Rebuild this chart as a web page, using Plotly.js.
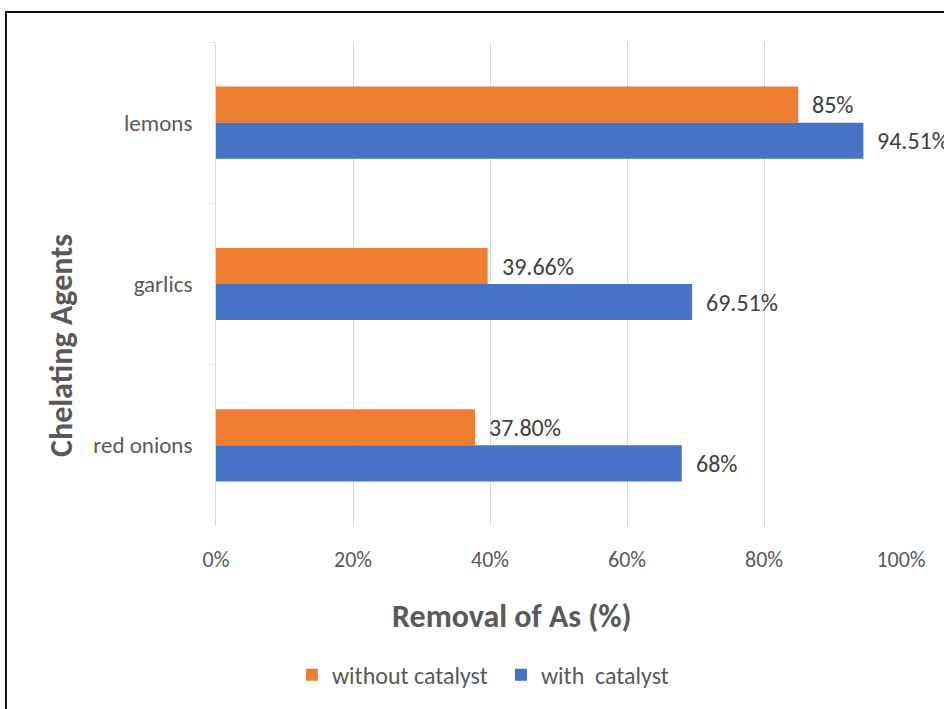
<!DOCTYPE html>
<html>
<head>
<meta charset="utf-8">
<script src="https://cdn.plot.ly/plotly-3.0.1.min.js"></script>
<style>
  html, body { margin: 0; padding: 0; background: #ffffff; overflow: hidden; }
  #chart { position: absolute; left: 0; top: 0; width: 944px; height: 709px; }
  #frame {
    position: absolute; left: 5px; top: 11px; width: 1000px; height: 800px;
    border-left: 2px solid #111; border-top: 2px solid #111;
    pointer-events: none;
  }
</style>
</head>
<body>
<div id="chart"></div>
<div id="frame"></div>
<script>
// Chelating agents, listed top to bottom
const agents = ['lemons', 'garlics', 'red onions'];

// Removal of As (%) for each agent
const withoutCatalyst = [85, 39.66, 37.80];
const withCatalyst = [94.51, 69.51, 68];

// Data labels as printed next to each bar
const withoutLabels = ['85%', '39.66%', '37.80%'];
const withLabels = ['94.51%', '69.51%', '68%'];

const xTicks = [0, 20, 40, 60, 80, 100];
const xTickText = ['0%', '20%', '40%', '60%', '80%', '100%'];

const FONT = 'Carlito, Lato, "Open Sans", sans-serif';
const ORANGE = '#ED7D31';
const BLUE = '#4472C4';

const traces = [
  {
    type: 'bar', orientation: 'h', name: 'without catalyst',
    y: agents, x: withoutCatalyst,
    marker: { color: ORANGE }, hoverinfo: 'skip'
  },
  {
    type: 'bar', orientation: 'h', name: 'with\u00a0 catalyst',
    y: agents, x: withCatalyst,
    marker: { color: BLUE }, hoverinfo: 'skip'
  }
];

// Value labels placed just past the end of each bar
const labelFont = { family: FONT, size: 24, color: '#404040' };
const annotations = [];
agents.forEach((a, i) => {
  annotations.push({
    x: withoutCatalyst[i], y: a, xref: 'x', yref: 'y',
    text: withoutLabels[i], showarrow: false,
    xanchor: 'left', yanchor: 'middle', xshift: 12, yshift: 18,
    font: labelFont
  });
  annotations.push({
    x: withCatalyst[i], y: a, xref: 'x', yref: 'y',
    text: withLabels[i], showarrow: false,
    xanchor: 'left', yanchor: 'middle', xshift: 12, yshift: -18,
    font: labelFont
  });
});

// Axis titles
annotations.push({
  x: 0.432, y: -0.188, xref: 'paper', yref: 'paper',
  text: '<b>Removal of As (%)</b>', showarrow: false,
  xanchor: 'center', yanchor: 'middle',
  font: { family: FONT, size: 32, color: '#595959' }
});
annotations.push({
  x: -0.2248, y: 0.372, xref: 'paper', yref: 'paper',
  text: '<b>Chelating Agents</b>', showarrow: false, textangle: -90,
  xanchor: 'center', yanchor: 'middle',
  font: { family: FONT, size: 32, color: '#595959' }
});

const layout = {
  width: 944, height: 709,
  margin: { l: 216, r: 43, t: 42, b: 183, pad: 0 },
  paper_bgcolor: '#ffffff', plot_bgcolor: '#ffffff',
  font: { family: FONT, color: '#595959' },
  barmode: 'group', bargap: 0.553, bargroupgap: 0,
  showlegend: true,
  legend: {
    orientation: 'h', x: 0.416, y: -0.308, xanchor: 'center', yanchor: 'middle',
    font: { family: FONT, size: 24, color: '#595959' },
    itemwidth: 30, entrywidth: 164, entrywidthmode: 'pixels',
    itemclick: false, itemdoubleclick: false
  },
  xaxis: {
    range: [0, 100], tickvals: xTicks, ticktext: xTickText,
    showgrid: true, gridcolor: '#d9d9d9', gridwidth: 1,
    zeroline: false, showline: false, ticks: '',
    tickfont: { family: FONT, size: 22, color: '#595959' },
    ticklabelstandoff: 18, fixedrange: true
  },
  yaxis: {
    type: 'category', autorange: 'reversed',
    tickson: 'boundaries', ticks: 'outside', ticklen: 6, tickcolor: '#d9d9d9',
    showline: true, linecolor: '#d9d9d9', linewidth: 1,
    showgrid: false, zeroline: false,
    tickfont: { family: FONT, size: 23, color: '#595959' },
    ticklabelstandoff: 18, fixedrange: true
  },
  annotations: annotations
};

Plotly.newPlot('chart', traces, layout, { displayModeBar: false, staticPlot: true });
</script>
</body>
</html>
